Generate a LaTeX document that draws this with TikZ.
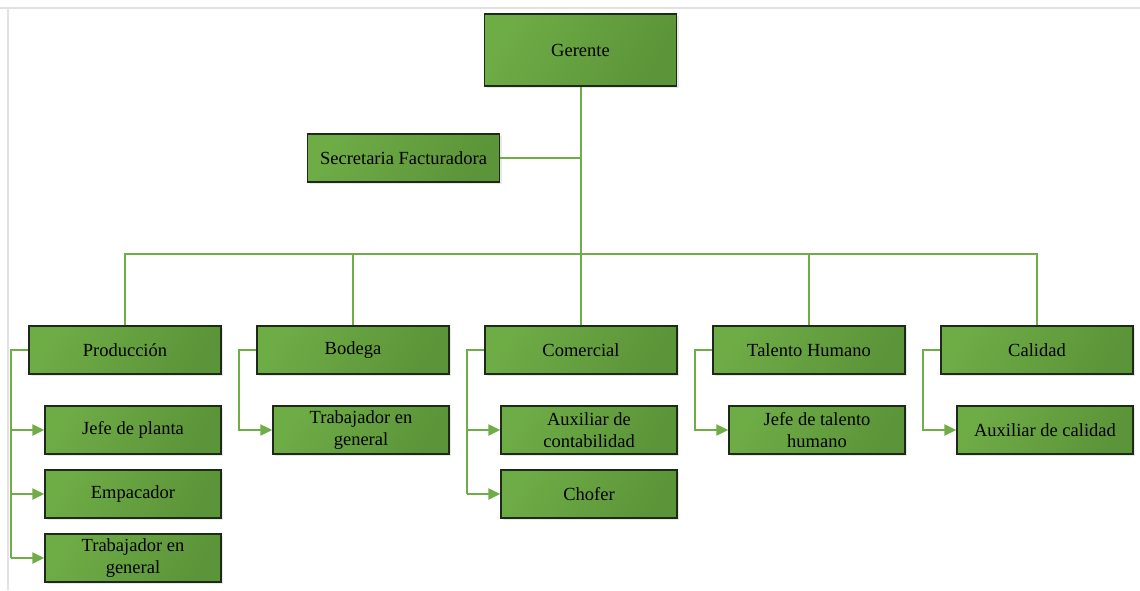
\documentclass[tikz,border=0pt]{standalone}
\usepackage{fontspec}
\setmainfont{Liberation Serif}
\usetikzlibrary{shadows,arrows.meta}
\definecolor{boxlight}{HTML}{6EAC46}
\definecolor{boxdark}{HTML}{5C9439}
\definecolor{linegreen}{HTML}{70AD47}
\definecolor{boxborder}{HTML}{1E2A18}
\definecolor{framegray}{HTML}{E2E2E2}
\tikzset{
  orgbox/.style={draw=boxborder, line width=1.3pt, left color=boxlight, right color=boxdark, shading angle=60,
    minimum width=192pt, minimum height=48pt, inner sep=2pt, align=center,
    font=\fontsize{18.5}{22.5}\selectfont,
    drop shadow={opacity=0.18, shadow xshift=2pt, shadow yshift=-2pt}},
  childbox/.style={orgbox, minimum width=176pt},
  conn/.style={draw=linegreen, line width=2pt},
  arr/.style={conn, -{Triangle[length=12pt,width=11pt]}}
}
\begin{document}
\begin{tikzpicture}[x=1pt,y=-1pt]
\useasboundingbox[fill=white] (0,0) rectangle (1140,590);
\draw[framegray, line width=2pt] (0,8) -- (1140,8);
\draw[framegray, line width=2pt] (8,8) -- (8,590);
% top
\node[orgbox, minimum height=72pt] (ger) at (580.5,50) {Gerente};
\node[orgbox] (sec) at (403.5,158) {Secretaria Facturadora};
% level 1
\node[orgbox] (prod) at (125,350) {Producción};
\node[orgbox] (bod) at (353,350) {Bodega};
\node[orgbox] (com) at (581,350) {Comercial};
\node[orgbox] (tal) at (809,350) {Talento Humano};
\node[orgbox] (cal) at (1037,350) {Calidad};
% children
\node[childbox] (jefe) at (133,430) {Jefe de planta};
\node[childbox] (emp) at (133,494) {Empacador};
\node[childbox] (trab1) at (133,558) {Trabajador en\\general};
\node[childbox] (trab2) at (361,430) {Trabajador en\\general};
\node[childbox] (aux) at (589,430) {Auxiliar de\\contabilidad};
\node[childbox] (chof) at (589,494) {Chofer};
\node[childbox] (jtal) at (817,430) {Jefe de talento\\humano};
\node[childbox] (acal) at (1045,430) {Auxiliar de calidad};
% connectors
\coordinate (bus) at (580.5,254);
\coordinate (secj) at (580.5,158);
\draw[conn] (ger.south) -- (bus);
\draw[conn] (sec.east) -- (secj);
\draw[conn] (prod.north) -- (prod.north |- bus) -- (cal.north |- bus) -- (cal.north);
\draw[conn] (bod.north) -- (bod.north |- bus);
\draw[conn] (com.north) -- (com.north |- bus);
\draw[conn] (tal.north) -- (tal.north |- bus);
% branches
\coordinate (pl) at ([xshift=-17pt]prod.west);
\draw[conn] (prod.west) -- (pl) -- (pl |- trab1.west);
\draw[arr] (pl |- jefe.west) -- (jefe.west);
\draw[arr] (pl |- emp.west) -- (emp.west);
\draw[arr] (pl |- trab1.west) -- (trab1.west);
\coordinate (bl) at ([xshift=-17pt]bod.west);
\draw[arr] (bod.west) -- (bl) |- (trab2.west);
\coordinate (cl) at ([xshift=-17pt]com.west);
\draw[conn] (com.west) -- (cl) -- (cl |- chof.west);
\draw[arr] (cl |- aux.west) -- (aux.west);
\draw[arr] (cl |- chof.west) -- (chof.west);
\coordinate (tl) at ([xshift=-17pt]tal.west);
\draw[arr] (tal.west) -- (tl) |- (jtal.west);
\coordinate (ql) at ([xshift=-17pt]cal.west);
\draw[arr] (cal.west) -- (ql) |- (acal.west);
\end{tikzpicture}
\end{document}
